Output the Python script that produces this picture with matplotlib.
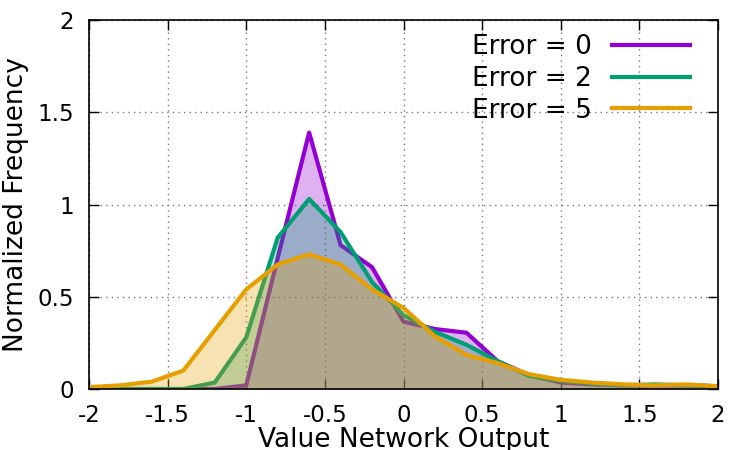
import matplotlib
matplotlib.use('Agg')
import matplotlib.pyplot as plt
import numpy as np

# value network output bins
x = [-2.0, -1.8, -1.6, -1.4, -1.2, -1.0, -0.8, -0.6, -0.4, -0.2, 0.0,
     0.2, 0.4, 0.6, 0.8, 1.0, 1.2, 1.4, 1.6, 1.8, 2.0]

err0 = [0.0, 0.0, 0.0, 0.0, 0.0, 0.02, 0.71, 1.39, 0.78, 0.66, 0.365,
        0.325, 0.305, 0.15, 0.075, 0.035, 0.025, 0.02, 0.02, 0.02, 0.015]
err2 = [0.0, 0.0, 0.0, 0.0, 0.035, 0.28, 0.82, 1.03, 0.85, 0.58, 0.40,
        0.31, 0.24, 0.15, 0.07, 0.045, 0.03, 0.02, 0.025, 0.02, 0.015]
err5 = [0.01, 0.02, 0.04, 0.10, 0.32, 0.54, 0.675, 0.73, 0.675, 0.54, 0.44,
        0.285, 0.185, 0.14, 0.08, 0.05, 0.035, 0.025, 0.02, 0.025, 0.015]

labels = ['Error = 0', 'Error = 2', 'Error = 5']
colors = ['#9400d3', '#009e73', '#e69f00']

plt.rcParams['font.family'] = ['DejaVu Sans']
plt.rcParams['font.size'] = 16.5

fig = plt.figure(figsize=(7.5, 4.5), dpi=100)
ax = fig.add_axes([89 / 750, 61 / 450, 629 / 750, 369 / 450])

for i, (ys, lab, c) in enumerate(zip([err0, err2, err5], labels, colors)):
    ax.fill_between(x, 0, ys, color=c, alpha=0.3, lw=0, zorder=2 + 2 * i)
    ax.plot(x, ys, color=c, lw=3, label=lab, zorder=3 + 2 * i)

ax.set_xlim(-2, 2)
ax.set_ylim(0, 2)
ax.set_xticks([-2, -1.5, -1, -0.5, 0, 0.5, 1, 1.5, 2])
ax.set_xticklabels(['-2', '-1.5', '-1', '-0.5', '0', '0.5', '1', '1.5', '2'])
ax.set_yticks([0, 0.5, 1, 1.5, 2])
ax.set_yticklabels(['0', '0.5', '1', '1.5', '2'])
ax.tick_params(direction='in', length=7, width=1, top=True, right=True)
ax.tick_params(axis='x', pad=11)
ax.tick_params(axis='y', pad=11)
ax.grid(True, color='#777777', linestyle=(0, (1, 3)), lw=1)
ax.set_axisbelow(True)
for s in ax.spines.values():
    s.set_linewidth(1.2)
    s.set_zorder(20)

ax.set_xlabel('Value Network Output', fontsize=19, labelpad=0)
ax.set_ylabel('Normalized Frequency', fontsize=19, labelpad=6)

ax.legend(loc='upper right', bbox_to_anchor=(0.955, 0.962), frameon=False,
          markerfirst=False, handlelength=2.95, labelspacing=0.22,
          borderaxespad=0, borderpad=0, handletextpad=0.75, fontsize=19)

fig.savefig('out.png', dpi=100)
plt.close()
